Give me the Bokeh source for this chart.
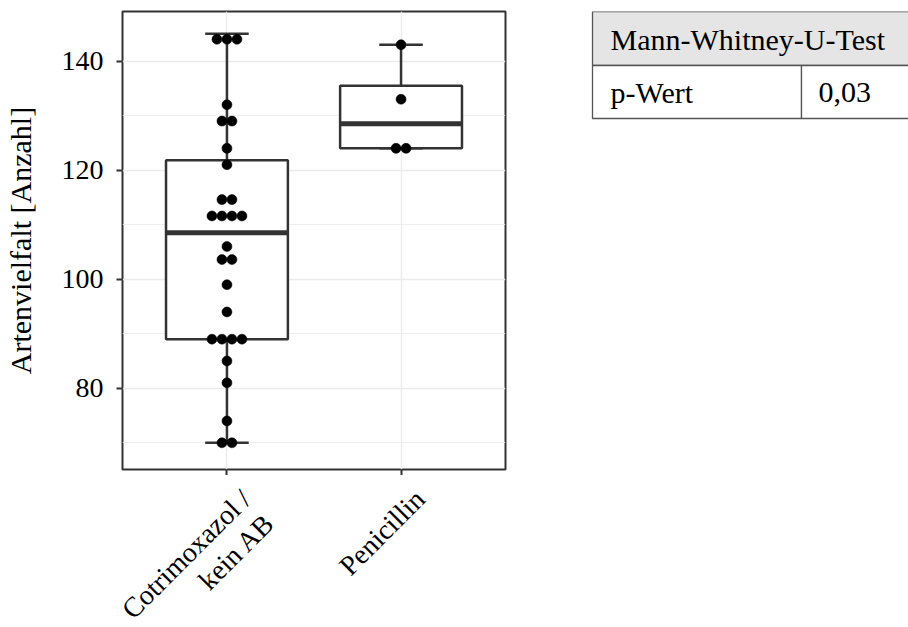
import numpy as np
from bokeh.plotting import figure
from bokeh.layouts import row, column
from bokeh.models import Range1d, FixedTicker, ColumnDataSource
from bokeh.embed import file_html
from bokeh.resources import INLINE
from bokeh.core.properties import value

# ---------------- data ----------------
categories = ["Cotrimoxazol /\nkein AB", "Penicillin"]
cat_pos = [1, 2]
whisker_low = [70, 124]
q1 = [89, 124]
median = [108.5, 128.5]
q3 = [121.8, 135.5]
whisker_high = [145, 143]

dots_cotrim = [144, 144, 144, 132, 129, 129, 124, 121, 114.6, 114.6,
               111.6, 111.6, 111.6, 111.6, 106, 103.6, 103.6, 99, 94,
               89, 89, 89, 89, 85, 81, 74, 70, 70]
dots_penicillin = [143, 133, 124, 124]

y_ticks = [80, 100, 120, 140]
y_minor = [70, 90, 110, 130]

table_header = "Mann-Whitney-U-Test"
table_label = "p-Wert"
table_value = "0,03"

FONT = "Liberation Serif"
DARK = "#333333"

# ---------------- layout constants (pixels) ----------------
W_TOTAL, H_TOTAL = 908, 627
LEFT, FRAME_W, RIGHT = 122, 383, 3
TOP, FRAME_H, BOTTOM = 11, 458, 6
P_W = LEFT + FRAME_W + RIGHT
P_H = TOP + FRAME_H + BOTTOM

X_START, X_END = 0.4, 2.6
Y_START, Y_END = 65.1, 149.1

# ---------------- main plot ----------------
p = figure(width=P_W, height=P_H, x_range=Range1d(X_START, X_END),
           y_range=Range1d(Y_START, Y_END), output_backend="svg",
           toolbar_location=None, min_border_left=LEFT, min_border_right=RIGHT,
           min_border_top=TOP, min_border_bottom=BOTTOM)
p.background_fill_color = "white"
p.border_fill_color = "white"
p.outline_line_color = DARK
p.outline_line_width = 2

p.ygrid.ticker = FixedTicker(ticks=y_ticks, minor_ticks=y_minor)
p.ygrid.grid_line_color = "#ebebeb"
p.ygrid.grid_line_width = 1.4
p.ygrid.minor_grid_line_color = "#ebebeb"
p.ygrid.minor_grid_line_width = 0.8
p.xgrid.ticker = FixedTicker(ticks=cat_pos)
p.xgrid.grid_line_color = "#ebebeb"
p.xgrid.grid_line_width = 1.4

p.yaxis.ticker = FixedTicker(ticks=y_ticks)
p.xaxis.ticker = FixedTicker(ticks=cat_pos)
p.xaxis.major_label_overrides = {c: "" for c in cat_pos}
p.yaxis.axis_label = "Artenvielfalt [Anzahl]"
p.yaxis.axis_label_text_font = FONT
p.yaxis.axis_label_text_font_size = "30px"
p.yaxis.axis_label_text_font_style = "normal"
p.yaxis.axis_label_text_color = "black"
p.yaxis.axis_label_standoff = 22
for ax in (p.xaxis, p.yaxis):
    ax.axis_line_color = None
    ax.major_tick_line_color = DARK
    ax.major_tick_line_width = 2
    ax.major_tick_out = 6
    ax.major_tick_in = 0
    ax.minor_tick_line_color = None
    ax.major_label_text_font = FONT
    ax.major_label_text_font_size = "28px"
    ax.major_label_text_color = "black"
p.yaxis.major_label_standoff = 13
p.xaxis.major_label_standoff = 0
p.xaxis.major_label_text_font_size = "0px"

box_w = 0.7
cap_w = 0.25
src = ColumnDataSource(dict(x=cat_pos, lo=whisker_low, q1=q1, med=median,
                            q3=q3, hi=whisker_high,
                            x0=[c - box_w / 2 for c in cat_pos],
                            x1=[c + box_w / 2 for c in cat_pos],
                            c0=[c - cap_w / 2 for c in cat_pos],
                            c1=[c + cap_w / 2 for c in cat_pos]))
p.segment(x0="x", x1="x", y0="q3", y1="hi", source=src, line_color=DARK, line_width=2.5)
p.segment(x0="x", x1="x", y0="lo", y1="q1", source=src, line_color=DARK, line_width=2.5)
p.segment(x0="c0", x1="c1", y0="hi", y1="hi", source=src, line_color=DARK, line_width=2.5)
p.segment(x0="c0", x1="c1", y0="lo", y1="lo", source=src, line_color=DARK, line_width=2.5)
p.quad(left="x0", right="x1", bottom="q1", top="q3", source=src,
       fill_color="white", line_color=DARK, line_width=2.5)
p.segment(x0="x0", x1="x1", y0="med", y1="med", source=src, line_color=DARK, line_width=5)

# dot plot (centered stacks)
px_per_x = FRAME_W / (X_END - X_START)
dot_px = 10
dot_w = dot_px / px_per_x
dx, dy = [], []
for c, vals in zip(cat_pos, [dots_cotrim, dots_penicillin]):
    u, counts = np.unique(np.array(vals), return_counts=True)
    for v, n in zip(u, counts):
        for i in range(n):
            dx.append(c + (i - (n - 1) / 2) * dot_w)
            dy.append(float(v))
p.scatter(dx, dy, size=dot_px, fill_color="black", line_color="black", line_width=0.5)

# ---------------- table (data units == pixels) ----------------
t = figure(width=W_TOTAL - P_W, height=P_H, x_range=Range1d(P_W, W_TOTAL),
           y_range=Range1d(TOP + FRAME_H, TOP), output_backend="svg",
           toolbar_location=None, min_border_left=0, min_border_right=0,
           min_border_top=TOP, min_border_bottom=BOTTOM,
           x_axis_location=None, y_axis_location=None)
t.outline_line_color = None
t.grid.visible = False
t.background_fill_color = "white"
t.border_fill_color = "white"

BL = "#555555"
t.quad(left=[592], right=[930], top=[11], bottom=[65], fill_color="#e5e5e5",
       line_color=BL, line_width=1.3)
t.quad(left=[592, 801], right=[801, 930], top=[65, 65], bottom=[118, 118],
       fill_color="white", line_color=BL, line_width=1.3)
t.text(x=[610], y=[39], text=[table_header], text_baseline="middle",
       text_font=value(FONT), text_font_size="30px", text_color="black")
t.text(x=[610, 818], y=[92, 92], text=[table_label, table_value], text_baseline="middle",
       text_font=value(FONT), text_font_size="30px", text_color="black")

# ---------------- rotated category labels (strip below the plot) ----------------
Q_H = H_TOTAL - P_H
q = figure(width=W_TOTAL, height=Q_H,
           x_range=Range1d(X_START - LEFT / px_per_x, X_START + (W_TOTAL - LEFT) / px_per_x),
           y_range=Range1d(Q_H, 0), output_backend="svg", toolbar_location=None,
           min_border=0, x_axis_location=None, y_axis_location=None)
q.outline_line_color = None
q.grid.visible = False
q.background_fill_color = "white"
q.border_fill_color = "white"

LABEL_SIZE = 28
LINE_STEP = LABEL_SIZE * 1.2 * np.sqrt(0.5)   # perpendicular line step, per axis
lx, ly, lt, lo = [], [], [], []
for c, lab in zip(cat_pos, categories):
    for i, line in enumerate(lab.split("\n")):
        lx.append(c)
        ly.append(8 + i * LINE_STEP)
        lt.append(line)
        lo.append(8 + i * LINE_STEP)
q.text(x=lx, y=ly, text=lt, x_offset=lo,
       angle=np.pi / 4, text_align="right", text_baseline="top",
       text_font=value(FONT), text_font_size=f"{LABEL_SIZE}px", text_color="black")

layout = column(row(p, t, spacing=0), q, spacing=0)
open("out.html", "w").write(file_html(layout, INLINE))
